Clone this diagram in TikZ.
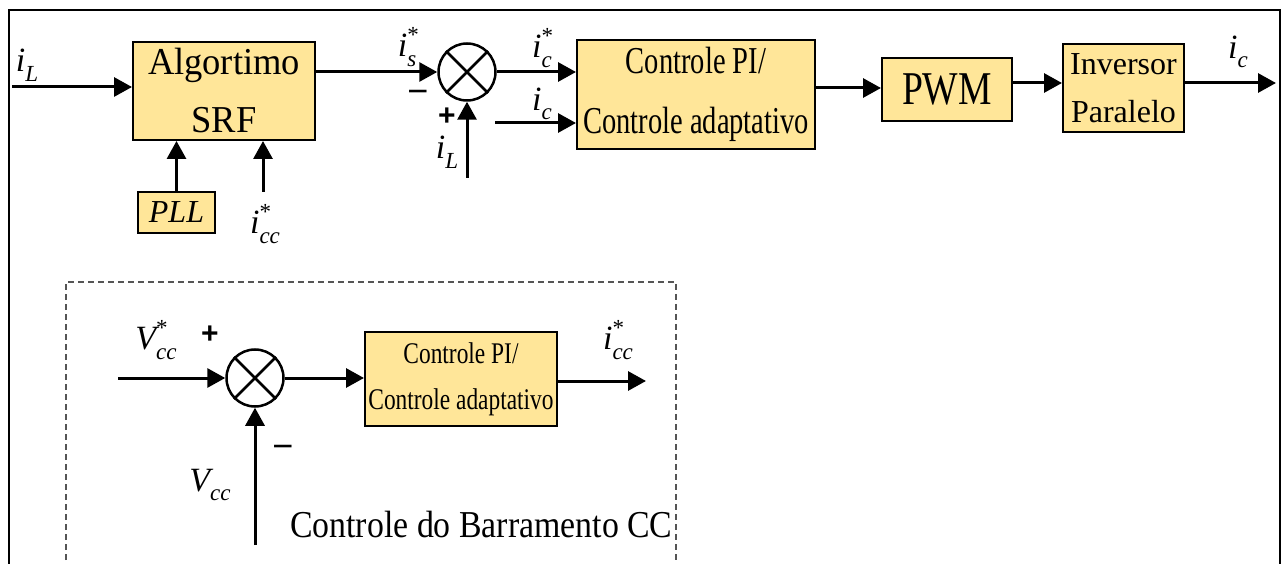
\documentclass[tikz,border=0pt]{standalone}
\usepackage{fontspec}
\usepackage{graphicx}
\setmainfont{Liberation Serif}
\setsansfont{Liberation Sans}
\usetikzlibrary{arrows.meta}
\definecolor{boxy}{HTML}{FFE699}
\definecolor{dashgray}{HTML}{555555}
\newcommand\fs[1]{\fontsize{#1}{#1}\selectfont}
\newcommand\sx[2]{\scalebox{#1}[1]{#2}}
\newcommand\ml[3]{{\itshape #1}\rlap{\raisebox{0.42em}{\fs{23}#3}}\raisebox{-0.28em}{\fs{23}\itshape #2}}
\tikzset{
  blk/.style={draw, line width=2pt, fill=boxy, inner sep=0pt, align=center},
  sumc/.style={draw, circle, line width=2.5pt, minimum size=57pt, inner sep=0pt},
  arr/.style={line width=3pt, -{Triangle[length=18pt,width=19pt]}},
  lab/.style={inner sep=0pt, font=\fs{34}},
  sgn/.style={inner sep=0pt, font=\sffamily\bfseries\fs{30}},
  msgn/.style={inner sep=0pt, font=\sffamily\fs{36}},
}
\begin{document}
\begin{tikzpicture}[x=1pt,y=-1pt]
\useasboundingbox (0,0) rectangle (1286,564);
% frames
\draw[line width=2pt] (9,600) -- (9,10) -- (1280,10) -- (1280,600);
\draw[dashgray, line width=1.2pt, dash pattern=on 6pt off 4pt] (66,600) -- (66,282) -- (676,282) -- (676,600);

% top row blocks
\node[blk, minimum width=182pt, minimum height=98pt, font=\fs{38}, yshift=-2pt] (srf) at (224,89) {\sx{0.96}{Algortimo}\\[20pt]\sx{0.96}{SRF}};
\node[blk, minimum width=77pt, minimum height=41pt, font=\itshape\fs{32}] (pll) at (176.5,212.5) {PLL};
\node[sumc] (s1) at (467,72) {};
\draw[line width=2.5pt] (s1.north west) -- (s1.south east) (s1.north east) -- (s1.south west);
\node[blk, minimum width=238pt, minimum height=109pt, font=\fs{38}] (pi) at (696,94.5) {\sx{0.75}{Controle PI/}\\[22pt]\sx{0.75}{Controle adaptativo}};
\node[blk, minimum width=130pt, minimum height=63pt, font=\fs{47}] (pwm) at (947,89.5) {\sx{0.8}{PWM}};
\node[blk, minimum width=121pt, minimum height=88pt, font=\fs{32}] (inv) at (1123.5,88) {Inversor\\[16pt]Paralelo};

% top row connectors
\coordinate (iLin) at (12,87);
\draw[arr] (iLin) -- (iLin -| srf.west);
\draw[arr] (pll.north) -- (pll.north |- srf.south);
\coordinate (iccin) at (263,192);
\draw[arr] (iccin) -- (iccin |- srf.south);
\draw[arr] (srf.east |- s1.west) -- (s1.west);
\draw[arr] (s1.east) -- (s1.east -| pi.west);
\coordinate (ic2in) at (495,123);
\draw[arr] (ic2in) -- (ic2in -| pi.west);
\coordinate (iL2in) at (467,178);
\draw[arr] (iL2in) -- (s1.south);
\coordinate (pipwm) at (815,88);
\draw[arr] (pipwm) -- (pipwm -| pwm.west);
\coordinate (out) at (1276,83);
\draw[arr] (pwm.east |- out) -- (inv.west |- out);
\draw[arr] (inv.east |- out) -- (out);

% top labels
\node[lab] (lbiL) at (27,65) {\ml{i}{L}{}};
\node[lab] (lbis) at (407,47) {\ml{i}{s}{*}};
\node[lab] (lbics) at (542,48) {\ml{i}{c}{*}};
\node[lab] (lbic2) at (542,104) {\ml{i}{c}{}};
\node[lab] (lbiL2) at (447,152) {\ml{i}{L}{}};
\node[lab] (lbicc) at (265,224) {\ml{i}{cc}{*}};
\node[lab] (lbicout) at (1238,52) {\ml{i}{c}{}};
\node[msgn] (m1) at (418,97) {−};
\node[sgn] (p1) at (447,117) {+};

% bottom section
\node[sumc] (s2) at (255,378) {};
\draw[line width=2.5pt] (s2.north west) -- (s2.south east) (s2.north east) -- (s2.south west);
\node[blk, minimum width=192pt, minimum height=94pt, font=\fs{30}] (pi2) at (461,379) {\sx{0.78}{Controle PI/}\\[16pt]\sx{0.78}{Controle adaptativo}};
\coordinate (vin) at (118,378);
\draw[arr] (vin) -- (s2.west);
\draw[arr] (s2.east) -- (s2.east -| pi2.west);
\coordinate (out2) at (646,381);
\draw[arr] (pi2.east |- out2) -- (out2);
\coordinate (vccin) at (255,545);
\draw[arr] (vccin) -- (s2.south);

\node[lab] (lbvs) at (156,340) {\ml{V}{cc}{*}};
\node[lab] (lbv) at (210,485) {\ml{V}{cc}{}};
\node[lab] (lbicc2) at (618,340) {\ml{i}{cc}{*}};
\node[sgn] (p2) at (210,335) {+};
\node[msgn] (m2) at (283,452) {−};
\node[inner sep=0pt, anchor=base west, font=\fs{38}] (title) at (290,537) {\sx{0.89}{Controle do Barramento CC}};
\end{tikzpicture}
\end{document}
